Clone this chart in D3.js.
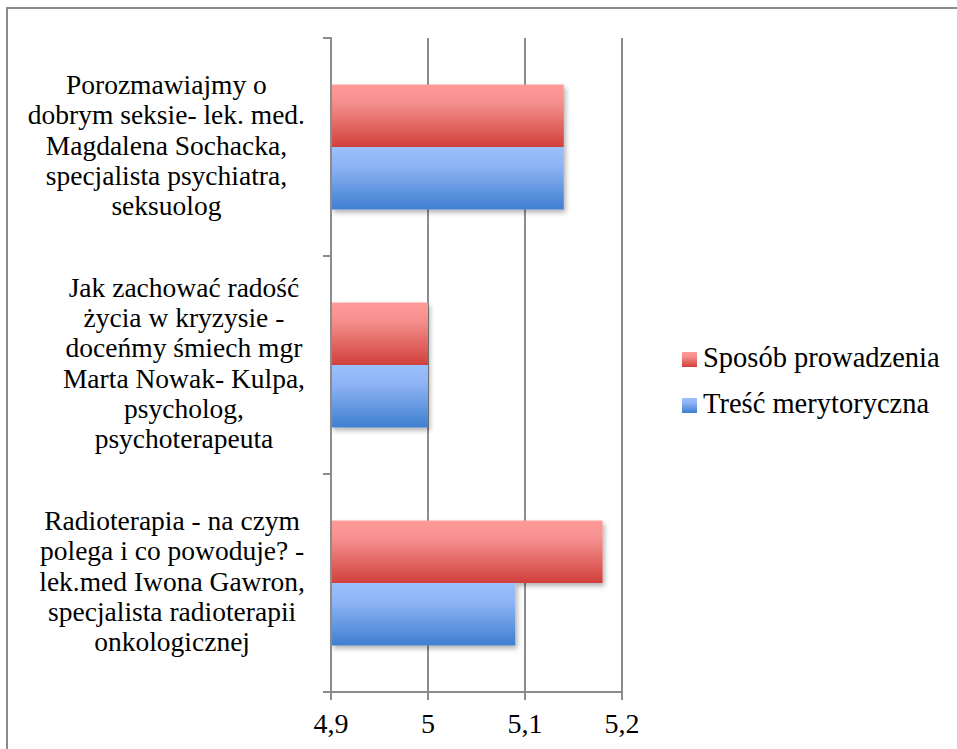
<!DOCTYPE html>
<html><head><meta charset="utf-8">
<script src="https://cdn.jsdelivr.net/npm/d3@7"></script>
<style>html,body{margin:0;padding:0;background:#fff;}svg{display:block;}</style>
</head><body><svg id="c" width="957" height="749"></svg>
<script>
const categories = [
  ["Porozmawiajmy o","dobrym seksie- lek. med.","Magdalena Sochacka,","specjalista psychiatra,","seksuolog"],
  ["Jak zachować radość","życia w kryzysie -","doceńmy śmiech mgr","Marta Nowak- Kulpa,","psycholog,","psychoterapeuta"],
  ["Radioterapia - na czym","polega i co powoduje? -","lek.med Iwona Gawron,","specjalista radioterapii","onkologicznej"]
];
const seriesNames = ["Sposób prowadzenia","Treść merytoryczna"];
const sposobValues = [5.14, 5.0, 5.18];
const trescValues = [5.14, 5.0, 5.09];
const xTicks = [4.9, 5.0, 5.1, 5.2];
const xTickLabels = ["4,9","5","5,1","5,2"];

const svg = d3.select("#c");
const font = "'Liberation Serif', serif";
const grey = "#8c8c8c";

// frame
svg.append("rect").attr("x",7).attr("y",8).attr("width",980).attr("height",780)
  .attr("fill","#fff").attr("stroke","#8a8a8a").attr("stroke-width",2);

const defs = svg.append("defs");
const gR = defs.append("linearGradient").attr("id","gR").attr("x1",0).attr("y1",0).attr("x2",0).attr("y2",1);
gR.append("stop").attr("offset","0%").attr("stop-color","#fe9b99");
gR.append("stop").attr("offset","30%").attr("stop-color","#f48f8d");
gR.append("stop").attr("offset","100%").attr("stop-color","#d1403b");
const gB = defs.append("linearGradient").attr("id","gB").attr("x1",0).attr("y1",0).attr("x2",0).attr("y2",1);
gB.append("stop").attr("offset","0%").attr("stop-color","#9ac0fd");
gB.append("stop").attr("offset","30%").attr("stop-color","#8fb4f4");
gB.append("stop").attr("offset","100%").attr("stop-color","#3e7fd0");
const f = defs.append("filter").attr("id","sh").attr("x","-10%").attr("y","-10%").attr("width","130%").attr("height","140%");
f.append("feDropShadow").attr("dx",2).attr("dy",3).attr("stdDeviation",2.5).attr("flood-color","#000").attr("flood-opacity",0.3);

const x = d3.scaleLinear().domain([4.9,5.2]).range([331,622]);
const y = d3.scaleBand().domain(d3.range(categories.length)).range([38,692]).padding(0);
const ys = d3.scaleBand().domain(seriesNames).range([0,y.bandwidth()]).paddingInner(0).paddingOuter(0.745);

// gridlines
svg.append("g").selectAll("line").data(xTicks.slice(1)).join("line")
  .attr("x1",d=>x(d)).attr("x2",d=>x(d)).attr("y1",38).attr("y2",692)
  .attr("stroke",grey).attr("stroke-width",2);

// bars
const data = categories.map((c,i)=>({i, vals:[sposobValues[i], trescValues[i]]}));
const fills = ["url(#gR)","url(#gB)"];
const g = svg.append("g");
data.forEach(d=>{
  const gg = g.append("g").attr("filter","url(#sh)");
  d.vals.forEach((v,k)=>{
    gg.append("rect").attr("x",x(4.9)).attr("y",y(d.i)+ys(seriesNames[k]))
      .attr("width",x(v)-x(4.9)).attr("height",ys.bandwidth()).attr("fill",fills[k]);
  });
});

// y axis
svg.append("line").attr("x1",331).attr("x2",331).attr("y1",37).attr("y2",700).attr("stroke",grey).attr("stroke-width",2);
const yTickPos = d3.range(categories.length).map(i=>y(i)).concat([692]);
svg.append("g").selectAll("line").data(yTickPos).join("line")
  .attr("x1",323).attr("x2",331).attr("y1",d=>d).attr("y2",d=>d).attr("stroke",grey).attr("stroke-width",2);
// x axis
svg.append("line").attr("x1",323).attr("x2",622).attr("y1",692).attr("y2",692).attr("stroke",grey).attr("stroke-width",2);
svg.append("g").selectAll("line").data(xTicks).join("line")
  .attr("x1",d=>x(d)).attr("x2",d=>x(d)).attr("y1",692).attr("y2",700).attr("stroke",grey).attr("stroke-width",2);
svg.append("g").selectAll("text").data(xTicks).join("text")
  .attr("x",d=>x(d)).attr("y",733).attr("text-anchor","middle")
  .attr("font-family",font).attr("font-size",28).attr("fill","#000")
  .text((d,i)=>xTickLabels[i]);

// category labels: centered lines, block right-aligned near the axis
categories.forEach((lines,i)=>{
  const cy = y(i)+y.bandwidth()/2;
  const t = svg.append("text").attr("text-anchor","middle").attr("font-family",font).attr("font-size",27.5).attr("fill","#000");
  const spans = lines.map((ln,j)=> t.append("tspan").attr("y",cy+(j-(lines.length-1)/2)*30.3+7.5).text(ln));
  const maxW = d3.max(spans, s=>s.node().getComputedTextLength());
  const cx = 305 - maxW/2;
  spans.forEach(s=>s.attr("x",cx));
});

// legend
const lg = svg.append("g");
seriesNames.forEach((s,k)=>{
  const base = 367 + k*46;
  lg.append("rect").attr("x",682).attr("y",base-15).attr("width",15).attr("height",15).attr("fill",fills[k]);
  lg.append("text").attr("x",703).attr("y",base).attr("font-family",font).attr("font-size",28.5).attr("fill","#000").text(s);
});
</script></body></html>
